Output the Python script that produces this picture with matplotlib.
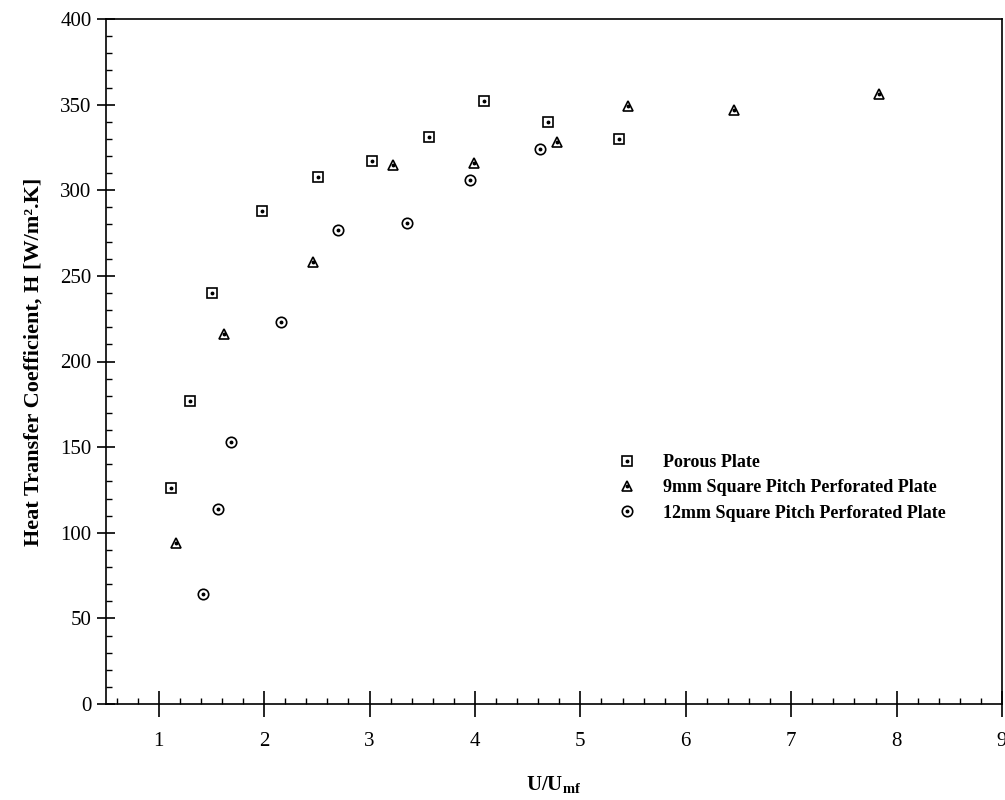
import matplotlib
matplotlib.use("Agg")
import matplotlib.pyplot as plt
from matplotlib.ticker import MultipleLocator

plt.rcParams['font.family'] = ['Liberation Serif', 'DejaVu Serif']
plt.rcParams['mathtext.fontset'] = 'custom'
plt.rcParams['mathtext.rm'] = 'Liberation Serif'
plt.rcParams['mathtext.bf'] = 'Liberation Serif:bold'

# U/Umf and heat transfer coefficient values
porous_x = [1.12, 1.30, 1.51, 1.98, 2.51, 3.02, 3.56, 4.09, 4.69, 5.37]
porous_h = [126, 177, 240, 288, 308, 317, 331, 352, 340, 330]

pitch9_x = [1.16, 1.62, 2.46, 3.22, 3.99, 4.78, 5.45, 6.46, 7.83]
pitch9_h = [94, 216, 258, 315, 316, 328, 349, 347, 356]

pitch12_x = [1.42, 1.56, 1.69, 2.16, 2.70, 3.36, 3.95, 4.62]
pitch12_h = [64, 114, 153, 223, 277, 281, 306, 324]

labels = ["Porous Plate", "9mm Square Pitch Perforated Plate",
          "12mm Square Pitch Perforated Plate"]

fig = plt.figure(figsize=(10.05, 8), dpi=100)
ax = fig.add_axes([106 / 1005, 96 / 800, 896 / 1005, 685 / 800])

handles = []
for xs, ys, m, ms in [(porous_x, porous_h, 's', 6.5),
                      (pitch9_x, pitch9_h, '^', 7),
                      (pitch12_x, pitch12_h, 'o', 7.5)]:
    h1, = ax.plot(xs, ys, linestyle='none', marker=m, markersize=ms,
                  markerfacecolor='none', markeredgecolor='black',
                  markeredgewidth=1.2)
    h2, = ax.plot(xs, ys, linestyle='none', marker='o', markersize=1.8,
                  color='black')
    handles.append((h1, h2))

ax.set_xlim(0.5, 9)
ax.set_ylim(0, 400)
ax.xaxis.set_major_locator(MultipleLocator(1))
ax.xaxis.set_minor_locator(MultipleLocator(0.2))
ax.yaxis.set_major_locator(MultipleLocator(50))
ax.yaxis.set_minor_locator(MultipleLocator(10))

ax.tick_params(axis='x', which='major', direction='inout', length=19,
               width=1.2, labelsize=15, pad=11)
ax.tick_params(axis='x', which='minor', direction='in', length=4, width=1)
ax.tick_params(axis='y', which='major', direction='inout', length=13,
               width=1.2, labelsize=15, pad=4)
ax.tick_params(axis='y', which='minor', direction='in', length=4, width=1)
for s in ax.spines.values():
    s.set_linewidth(1.2)

ax.set_xlabel(r'$\mathbf{U/U_{mf}}$', fontsize=15, labelpad=16)
ax.set_ylabel('Heat Transfer Coefficient, H [W/m².K]', fontsize=16,
              fontweight='bold', labelpad=12)

ax.legend(handles, labels, loc='upper left',
          bbox_to_anchor=(600 / 1005, 1 - 438 / 800),
          bbox_transform=fig.transFigure, frameon=False,
          handlelength=1.2, handletextpad=1.4, labelspacing=0.45,
          prop={'weight': 'bold', 'size': 13})

fig.savefig("out.png", dpi=100)
